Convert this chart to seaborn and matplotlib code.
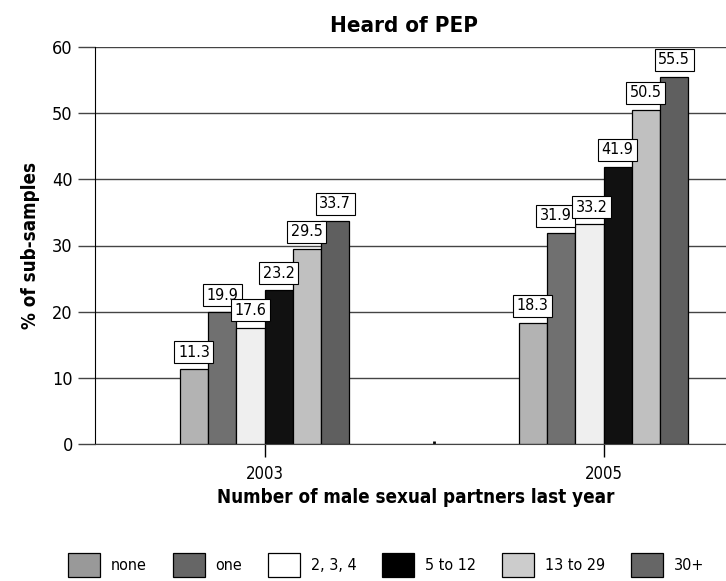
import numpy as np
import pandas as pd
import matplotlib.pyplot as plt
import seaborn as sns

# %%
years = ['2003', '2005']
partners = ['none', 'one', '2, 3, 4', '5 to 12', '13 to 29', '30+']
vals_2003 = [11.3, 19.9, 17.6, 23.2, 29.5, 33.7]
vals_2005 = [18.3, 31.9, 33.2, 41.9, 50.5, 55.5]
bar_colors = ['#b3b3b3', '#707070', '#efefef', '#111111', '#c0c0c0', '#5f5f5f']
legend_colors = ['#999999', '#666666', '#ffffff', '#000000', '#cccccc', '#666666']

df = pd.DataFrame({
    'year': [years[0]] * 6 + [years[1]] * 6,
    'partners': partners * 2,
    'pct': vals_2003 + vals_2005,
})

# %%
sns.set_style('white')
plt.rcParams['font.family'] = ['DejaVu Sans']
plt.rcParams['font.stretch'] = 'condensed'
plt.rcParams['text.color'] = 'black'
plt.rcParams['axes.labelcolor'] = 'black'
plt.rcParams['xtick.color'] = 'black'
plt.rcParams['ytick.color'] = 'black'

fig = plt.figure(figsize=(7.26, 5.81), dpi=100)
ax = fig.add_axes([95 / 726, 1 - 444 / 581, 678 / 726, (444 - 47) / 581])

sns.barplot(data=df, x='year', y='pct', hue='partners', hue_order=partners,
            palette=bar_colors, width=0.5, edgecolor='black', linewidth=0.9,
            saturation=1, ax=ax, legend=True)

labels_by_hue = []
for c in ax.containers:
    anns = ax.bar_label(c, fmt='%.1f', padding=7, fontsize=11.5,
                        bbox=dict(facecolor='white', edgecolor='black', linewidth=0.8, pad=2.5))
    labels_by_hue.append(anns)

# 2005: "one" and "2, 3, 4" labels sit side by side, nudge them apart a little
labels_by_hue[1][1].xyann = (-4, 7)
labels_by_hue[2][1].xyann = (1.5, 7)

ax.set_ylim(0, 60)
ax.set_xlim(-0.5, 1.5)
ax.set_yticks(range(0, 61, 10))
ax.yaxis.grid(True, color='#444444', linewidth=1)
ax.set_axisbelow(True)
for s in ['top', 'right']:
    ax.spines[s].set_visible(False)
ax.spines['left'].set_color('black')
ax.spines['bottom'].set_color('#444444')
ax.tick_params(axis='y', length=12, width=1, color='#444444', labelsize=13, pad=4, left=True)
ax.set_xticks([0, 1], labels=years)
ax.set_xticks([0.5], minor=True)
ax.tick_params(axis='x', which='major', length=9, width=1, color='black', labelsize=12,
               pad=6, bottom=True, direction='out')
ax.tick_params(axis='x', which='minor', length=2, width=2, color='black', bottom=True, direction='in')

ax.set_title('Heard of PEP', fontsize=16, fontweight='bold', pad=11, x=0.456)
ax.set_xlabel('Number of male sexual partners last year', fontsize=13.5, fontweight='bold',
              labelpad=4, x=0.473)
ax.set_ylabel('% of sub-samples', fontsize=13.5, fontweight='bold', labelpad=9)

handles, labels = ax.get_legend_handles_labels()
for h, col in zip(handles, legend_colors):
    h.set_facecolor(col)
ax.legend_.remove()
fig.legend(handles, labels, loc='center left', bbox_to_anchor=(68 / 726, 16 / 581), ncol=6,
           frameon=False, borderpad=0, borderaxespad=0, fontsize=11.5,
           handlelength=2.0, handleheight=2.0, handletextpad=0.7, columnspacing=1.6)

fig.savefig('out.png', dpi=100)
